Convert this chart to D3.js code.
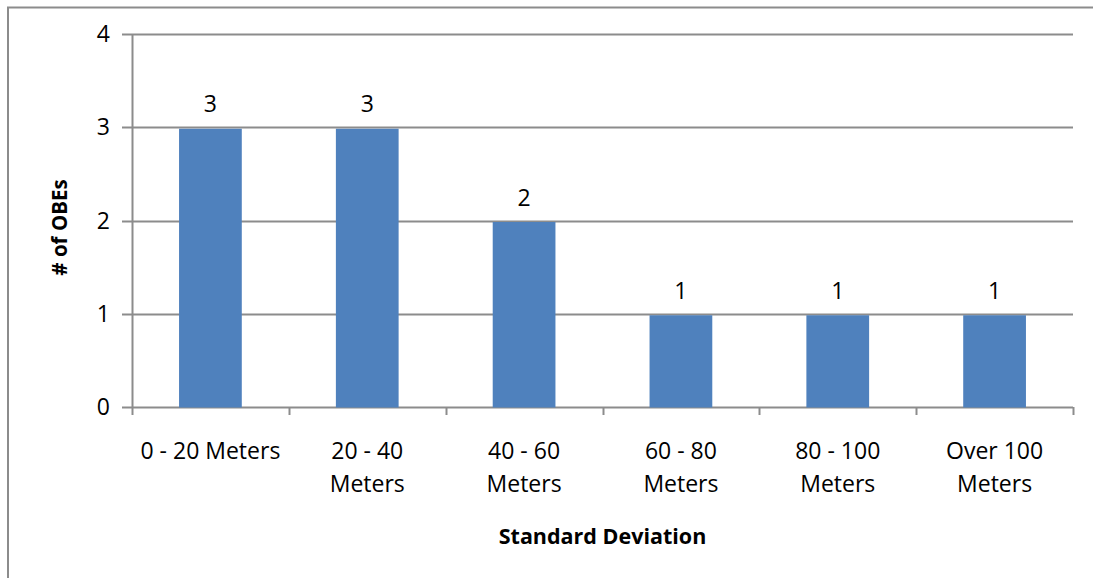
<!DOCTYPE html>
<html>
<head>
<meta charset="utf-8">
<script src="https://cdn.jsdelivr.net/npm/d3@7"></script>
<style>
  html, body { margin: 0; padding: 0; background: #fff; }
  svg { display: block; }
  text { font-family: "Open Sans", "Noto Sans", sans-serif; fill: #000; }
</style>
</head>
<body>
<svg id="chart" width="1093" height="578"></svg>
<script>
// Number of OBEs per standard-deviation bucket
const categories = [["0 - 20 Meters"], ["20 - 40", "Meters"], ["40 - 60", "Meters"], ["60 - 80", "Meters"], ["80 - 100", "Meters"], ["Over 100", "Meters"]];
const values = [3, 3, 2, 1, 1, 1];
const yTicks = [0, 1, 2, 3, 4];

const svg = d3.select("#chart");
const W = 1093, H = 578;
const margin = { left: 132, right: 20, top: 34, bottom: 171 };
const plotW = W - margin.left - margin.right;
const plotH = H - margin.top - margin.bottom;
const axisColor = "#8c8c8c";

// Outer frame
svg.append("rect")
  .attr("x", 8).attr("y", 7.5)
  .attr("width", W + 10).attr("height", H + 10)
  .attr("fill", "none").attr("stroke", axisColor).attr("stroke-width", 2);

const g = svg.append("g").attr("transform", `translate(${margin.left},${margin.top})`);

const x = d3.scaleBand().domain(d3.range(categories.length)).range([0, plotW]).paddingInner(0.6).paddingOuter(0.3);
const xOuter = d3.scaleBand().domain(d3.range(categories.length)).range([0, plotW]);
const y = d3.scaleLinear().domain([0, 4]).range([plotH, 0]);

// Horizontal gridlines
g.selectAll("line.grid").data(yTicks).join("line")
  .attr("class", "grid")
  .attr("x1", -10).attr("x2", plotW)
  .attr("y1", d => Math.round(y(d)) + 0.5).attr("y2", d => Math.round(y(d)) + 0.5)
  .attr("stroke", axisColor).attr("stroke-width", 2);

// Bars
g.selectAll("rect.bar").data(values).join("rect")
  .attr("class", "bar")
  .attr("x", (d, i) => x(i))
  .attr("width", x.bandwidth())
  .attr("y", d => y(d) + 1.5)
  .attr("height", d => y(0) - y(d) - 1)
  .attr("fill", "#4f81bd");

// Value labels
g.selectAll("text.val").data(values).join("text")
  .attr("class", "val")
  .attr("x", (d, i) => x(i) + x.bandwidth() / 2)
  .attr("y", d => y(d) - 15)
  .attr("text-anchor", "middle")
  .attr("font-size", 23)
  .text(d => d);

// Y axis line
g.append("line")
  .attr("x1", 0.5).attr("x2", 0.5).attr("y1", 0).attr("y2", plotH)
  .attr("stroke", axisColor).attr("stroke-width", 2);

// Y tick labels
g.selectAll("text.ytick").data(yTicks).join("text")
  .attr("class", "ytick")
  .attr("x", -22).attr("y", d => y(d) + 8)
  .attr("text-anchor", "end")
  .attr("font-size", 23)
  .text(d => d);

// X axis baseline ticks at category boundaries
const bounds = d3.range(categories.length + 1).map(i => i === categories.length ? plotW : xOuter(i));
g.selectAll("line.xtick").data(bounds).join("line")
  .attr("class", "xtick")
  .attr("x1", d => Math.round(d) + 0.5).attr("x2", d => Math.round(d) + 0.5)
  .attr("y1", plotH).attr("y2", plotH + 8)
  .attr("stroke", axisColor).attr("stroke-width", 2);

// Category labels
const catG = g.selectAll("text.cat").data(categories).join("text")
  .attr("class", "cat")
  .attr("text-anchor", "middle")
  .attr("font-size", 23)
  .attr("x", (d, i) => xOuter(i) + xOuter.bandwidth() / 2);
catG.selectAll("tspan").data(d => d).join("tspan")
  .attr("x", function () { return d3.select(this.parentNode).attr("x"); })
  .attr("y", (d, i) => plotH + 52 + i * 33)
  .text(d => d);

// Axis titles
g.append("text")
  .attr("x", plotW / 2).attr("y", plotH + 137)
  .attr("text-anchor", "middle")
  .attr("font-size", 21.5).attr("font-weight", "bold")
  .text("Standard Deviation");

svg.append("text")
  .attr("transform", `translate(67,${margin.top + plotH / 2 + 7}) rotate(-90)`)
  .attr("text-anchor", "middle")
  .attr("font-size", 20.5).attr("font-weight", "bold")
  .text("# of OBEs");
</script>
</body>
</html>
